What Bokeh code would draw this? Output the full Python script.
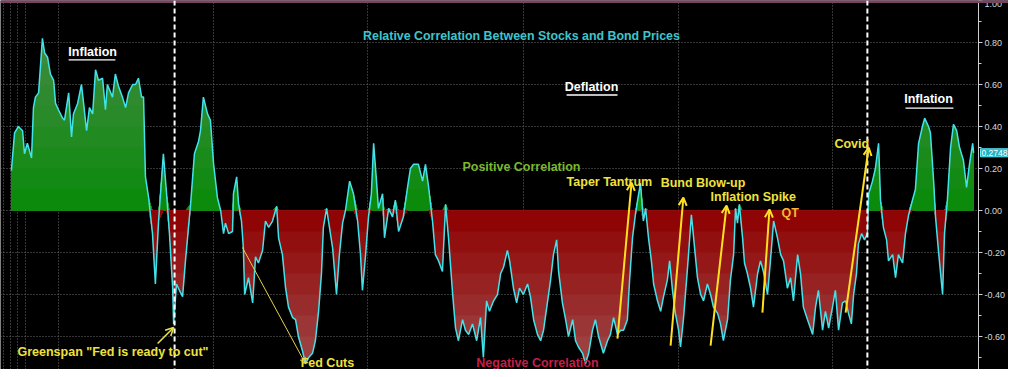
import numpy as np
from bokeh.plotting import figure
from bokeh.models import (Range1d, SingleIntervalTicker, FixedTicker, Grid, Label,
                          Arrow, OpenHead, Span, NumeralTickFormatter, LinearAxis,
                          BoxAnnotation)
from bokeh.embed import file_html
from bokeh.resources import INLINE

# ---------------- data (decimal years, correlation) ----------------
dates = [
    1993.74, 1993.84, 1993.96, 1994.09, 1994.15, 1994.24, 1994.37, 1994.43, 1994.49, 1994.59,
    1994.71, 1994.78, 1994.87, 1994.96, 1995.06, 1995.12, 1995.21, 1995.34, 1995.40, 1995.53,
    1995.62, 1995.68, 1995.81, 1995.93, 1995.99, 1996.09, 1996.18, 1996.28, 1996.37, 1996.46,
    1996.59, 1996.68, 1996.74, 1996.90, 1996.99, 1997.09, 1997.21, 1997.31, 1997.40, 1997.53,
    1997.62, 1997.71, 1997.81, 1997.87, 1997.93, 1998.03, 1998.15, 1998.24, 1998.34, 1998.49,
    1998.59, 1998.68, 1998.78, 1998.81, 1998.90, 1998.96, 1999.09, 1999.18, 1999.34, 1999.46,
    1999.59, 1999.65, 1999.74, 1999.87, 1999.96, 2000.06, 2000.18, 2000.28, 2000.37, 2000.43,
    2000.53, 2000.65, 2000.68, 2000.78, 2000.84, 2000.93, 2000.99, 2001.03, 2001.15, 2001.28,
    2001.37, 2001.46, 2001.59, 2001.68, 2001.78, 2001.90, 2002.03, 2002.09, 2002.21, 2002.31,
    2002.40, 2002.53, 2002.62, 2002.71, 2002.84, 2002.93, 2003.03, 2003.15, 2003.24, 2003.34,
    2003.43, 2003.49, 2003.59, 2003.65, 2003.78, 2003.90, 2003.99, 2004.09, 2004.18, 2004.31,
    2004.43, 2004.56, 2004.65, 2004.71, 2004.81, 2004.90, 2004.99, 2005.06, 2005.15, 2005.21,
    2005.34, 2005.40, 2005.53, 2005.65, 2005.74, 2005.84, 2005.99, 2006.12, 2006.21, 2006.31,
    2006.46, 2006.59, 2006.68, 2006.78, 2006.90, 2006.99, 2007.09, 2007.21, 2007.31, 2007.40,
    2007.53, 2007.62, 2007.71, 2007.84, 2007.93, 2008.03, 2008.15, 2008.28, 2008.40, 2008.49,
    2008.59, 2008.68, 2008.81, 2008.93, 2009.03, 2009.12, 2009.24, 2009.31, 2009.43, 2009.53,
    2009.62, 2009.74, 2009.87, 2009.96, 2010.06, 2010.18, 2010.28, 2010.37, 2010.49, 2010.59,
    2010.68, 2010.78, 2010.84, 2010.96, 2011.06, 2011.15, 2011.28, 2011.37, 2011.46, 2011.59,
    2011.68, 2011.78, 2011.90, 2011.99, 2012.09, 2012.24, 2012.37, 2012.46, 2012.56, 2012.68,
    2012.78, 2012.87, 2012.99, 2013.06, 2013.15, 2013.24, 2013.31, 2013.40, 2013.49, 2013.56,
    2013.65, 2013.74, 2013.81, 2013.93, 2014.03, 2014.12, 2014.24, 2014.31, 2014.40, 2014.49,
    2014.59, 2014.65, 2014.74, 2014.84, 2014.90, 2014.99, 2015.06, 2015.18, 2015.28, 2015.37,
    2015.49, 2015.59, 2015.68, 2015.81, 2015.90, 2015.99, 2016.12, 2016.21, 2016.31, 2016.37,
    2016.43, 2016.49, 2016.59, 2016.65, 2016.74, 2016.84, 2016.93, 2017.06, 2017.15, 2017.24,
    2017.37, 2017.46, 2017.56, 2017.68, 2017.78, 2017.87, 2017.99, 2018.09, 2018.18, 2018.31,
    2018.40, 2018.49, 2018.62, 2018.78, 2018.87, 2018.96, 2019.09, 2019.18, 2019.28, 2019.40,
    2019.49, 2019.59, 2019.71, 2019.81, 2019.90, 2019.99, 2020.06, 2020.15, 2020.21, 2020.31,
    2020.40, 2020.49, 2020.53, 2020.65, 2020.74, 2020.84, 2020.90, 2020.99, 2021.09, 2021.15,
    2021.28, 2021.37, 2021.46, 2021.59, 2021.68, 2021.78, 2021.90, 2021.99, 2022.09, 2022.21,
    2022.28, 2022.40, 2022.46, 2022.56, 2022.62, 2022.71, 2022.84, 2022.90, 2022.99, 2023.09,
    2023.18, 2023.28, 2023.37, 2023.49, 2023.59, 2023.68, 2023.78, 2023.81,
]

corr = [
    0.19, 0.37, 0.40, 0.38, 0.27, 0.32, 0.25, 0.49, 0.54, 0.56,
    0.82, 0.75, 0.73, 0.65, 0.62, 0.51, 0.48, 0.44, 0.43, 0.56,
    0.35, 0.46, 0.51, 0.60, 0.52, 0.38, 0.49, 0.46, 0.67, 0.62,
    0.63, 0.48, 0.60, 0.54, 0.65, 0.59, 0.54, 0.49, 0.56, 0.60,
    0.60, 0.63, 0.54, 0.54, 0.16, 0.06, -0.11, -0.35, -0.05, 0.27,
    0.08, -0.11, -0.37, -0.54, -0.35, -0.37, -0.41, -0.24, 0.03, 0.27,
    0.33, 0.38, 0.54, 0.46, 0.43, 0.22, 0.06, 0.00, -0.11, -0.06,
    -0.11, -0.10, 0.08, 0.16, 0.03, -0.05, -0.18, -0.40, -0.32, -0.44,
    -0.22, -0.25, -0.19, -0.05, -0.08, -0.05, 0.02, -0.13, -0.21, -0.37,
    -0.46, -0.51, -0.52, -0.60, -0.67, -0.73, -0.70, -0.68, -0.62, -0.48,
    -0.30, -0.08, 0.01, -0.05, -0.18, -0.40, -0.21, -0.06, 0.00, 0.14,
    0.08, -0.05, -0.21, -0.38, -0.21, -0.03, 0.08, 0.32, 0.14, 0.01,
    0.08, -0.13, 0.01, -0.03, 0.05, -0.10, -0.03, 0.11, 0.20, 0.22,
    0.22, 0.14, 0.22, 0.11, -0.05, -0.21, -0.24, -0.29, 0.03, -0.13,
    -0.40, -0.56, -0.62, -0.52, -0.57, -0.59, -0.54, -0.62, -0.51, -0.70,
    -0.43, -0.48, -0.43, -0.40, -0.30, -0.27, -0.19, -0.24, -0.37, -0.44,
    -0.37, -0.40, -0.35, -0.41, -0.52, -0.59, -0.62, -0.57, -0.44, -0.33,
    -0.21, -0.14, -0.29, -0.44, -0.52, -0.60, -0.52, -0.62, -0.65, -0.68,
    -0.73, -0.68, -0.57, -0.52, -0.60, -0.68, -0.62, -0.59, -0.51, -0.59,
    -0.57, -0.57, -0.52, -0.33, -0.13, -0.02, 0.05, 0.13, -0.05, 0.01,
    -0.13, -0.24, -0.35, -0.43, -0.48, -0.41, -0.33, -0.24, -0.38, -0.49,
    -0.57, -0.65, -0.52, -0.33, -0.21, -0.02, -0.13, -0.32, -0.40, -0.43,
    -0.35, -0.40, -0.46, -0.49, -0.54, -0.62, -0.52, -0.33, -0.21, 0.01,
    -0.06, 0.03, -0.13, -0.25, -0.30, -0.37, -0.46, -0.30, -0.24, -0.29,
    -0.40, -0.24, -0.05, -0.13, -0.21, -0.24, -0.37, -0.32, -0.43, -0.21,
    -0.30, -0.46, -0.52, -0.59, -0.46, -0.38, -0.57, -0.48, -0.56, -0.46,
    -0.38, -0.57, -0.44, -0.43, -0.49, -0.54, -0.40, -0.30, -0.16, -0.11,
    -0.14, -0.11, 0.08, 0.14, 0.20, 0.32, 0.05, -0.08, -0.14, -0.24,
    -0.21, -0.32, -0.21, -0.25, -0.11, -0.02, 0.05, 0.10, 0.32, 0.40,
    0.44, 0.40, 0.37, 0.14, -0.03, -0.19, -0.40, -0.11, 0.05, 0.30,
    0.41, 0.38, 0.30, 0.24, 0.11, 0.22, 0.32, 0.2748,
]

last_value = 0.2748
event_dates = [1998.84, 2020.49]          # Greenspan "Fed is ready to cut", Covid
grid_years = [1993.49, 1993.71, 1993.93, 1994.18, 1995.21, 2000.06, 2004.87,
              2009.74, 2014.59, 2019.40]

assert len(dates) == len(corr)

FONT = "Liberation Sans"
t = np.array(dates)
v = np.array(corr)

FW, FH = 1008, 369
X0 = 1993.4
AX = X0 + 978 / 32.0          # position of the value axis (right side)

p = figure(frame_width=FW, frame_height=FH,
           x_range=Range1d(X0, X0 + FW / 32.0),
           y_range=Range1d(-0.757, 1.0),
           x_axis_location=None, y_axis_location=None,
           output_backend="svg", toolbar_location=None,
           background_fill_color="black", border_fill_color="black",
           min_border=0, outline_line_color=None)

# hide any default grids
for g in list(p.renderers) + list(p.center):
    if isinstance(g, Grid):
        g.visible = False

yticker = SingleIntervalTicker(interval=0.2, num_minor_ticks=2)

# grids
p.add_layout(Grid(dimension=1, ticker=yticker, grid_line_color="#6a6a6a",
                  grid_line_dash="1 2"))
p.add_layout(Grid(dimension=0, ticker=FixedTicker(ticks=grid_years),
                  grid_line_color="#6a6a6a", grid_line_dash="1 2"))
# blank the area right of the value axis
p.add_layout(BoxAnnotation(left=AX, fill_color="black", fill_alpha=1.0,
                           line_color=None, level="underlay"))

# right value axis
ax = LinearAxis(ticker=yticker, fixed_location=AX,
                formatter=NumeralTickFormatter(format="0.00"))
ax.axis_line_color = "#d0d0d0"
ax.major_tick_line_color = "#d0d0d0"
ax.minor_tick_line_color = "#d0d0d0"
ax.major_tick_in = 0
ax.major_tick_out = 4
ax.minor_tick_in = 0
ax.minor_tick_out = 3
ax.major_label_text_color = "#d8d8d8"
ax.major_label_text_font = FONT
ax.major_label_text_font_size = "9px"
ax.major_label_standoff = 2
p.add_layout(ax, "right")

# top border line
p.add_layout(Span(location=0.995, dimension="width", line_color="#7a4262", line_width=3))

# gradient-like fills (layered)
def mix(c0, c1, f):
    return "#%02x%02x%02x" % tuple(int(round(a + (b - a) * f)) for a, b in zip(c0, c1))

pos = np.maximum(v, 0)
neg = np.minimum(v, 0)
for k in range(9, 0, -1):
    b = k * 0.1
    col = mix((8, 138, 8), (72, 138, 72), (k - 0.5) / 9)
    p.varea(x=t, y1=0, y2=np.minimum(pos, b), fill_color=col)
for k in range(8, 0, -1):
    b = -k * 0.1
    col = mix((142, 0, 0), (160, 78, 78), (k - 0.5) / 8)
    p.varea(x=t, y1=0, y2=np.maximum(neg, b), fill_color=col)

p.line(t, v, line_color="#42e2ea", line_width=1.5)

# event dashed lines
for d in event_dates:
    p.add_layout(Span(location=d, dimension="height", line_color="white",
                      line_dash="5 3", line_width=2))

# annotations
def lab(x, y, text, color, size="12.5px", align="left", baseline="middle"):
    p.add_layout(Label(x=x, y=y, text=text, text_color=color, text_font=FONT,
                       text_font_size=size, text_font_style="bold",
                       text_align=align, text_baseline=baseline))

YEL = "#f0e23c"
lab(2009.68, 0.829, "Relative Correlation Between Stocks and Bond Prices", "#3ec5cc", "12.4px", "center")
lab(1996.28, 0.757, "Inflation", "white", "12.5px", "center")
lab(2011.87, 0.590, "Deflation", "white", "12.5px", "center")
lab(2022.40, 0.529, "Inflation", "white", "12.5px", "center")
p.segment(x0=[1995.53, 2011.09, 2021.68], y0=[0.717, 0.550, 0.488],
          x1=[1996.99, 2012.68, 2023.18], y1=[0.717, 0.550, 0.488],
          line_color="white", line_width=1.3)
lab(2009.68, 0.205, "Positive Correlation", "#7ab82c", align="center")
lab(2010.18, -0.724, "Negative Correlation", "#c41e48", align="center")
lab(2002.78, -0.724, "Fed Cuts", YEL)
lab(1993.93, -0.676, "Greenspan \"Fed is ready to cut\"", YEL)
lab(2011.09, 0.138, "Taper Tantrum", YEL)
lab(2014.03, 0.129, "Bund Blow-up", YEL)
lab(2015.59, 0.062, "Inflation Spike", YEL)
lab(2017.81, -0.010, "QT", "#f5b830")
lab(2019.46, 0.319, "Covid", YEL)

ARW = "#ffe020"
arrows = [
    (1998.31, -0.633, 1998.81, -0.557, "#e8e04a", 1.6, 8),
    (2000.96, -0.176, 2002.93, -0.729, "#e8d050", 1.0, 6),
    (2012.68, -0.610, 2013.12, 0.133, ARW, 2.0, 8),
    (2014.34, -0.643, 2014.74, 0.062, ARW, 2.0, 8),
    (2015.59, -0.643, 2016.09, 0.024, ARW, 2.0, 8),
    (2017.21, -0.486, 2017.43, 0.005, ARW, 2.0, 8),
    (2019.81, -0.486, 2020.53, 0.300, ARW, 2.0, 8),
]
for x0, y0, x1, y1, c, w, s in arrows:
    p.add_layout(Arrow(end=OpenHead(size=s, line_color=c, line_width=w),
                       x_start=x0, y_start=y0, x_end=x1, y_end=y1,
                       line_color=c, line_width=w))

# last value tag (just right of the axis)
p.add_layout(Label(x=AX, y=last_value, x_offset=2,
                   text="%.4f" % last_value, text_color="white", text_font=FONT,
                   text_font_size="8.5px", text_baseline="middle",
                   background_fill_color="#1fb5c5", border_line_color="#5ff0ff",
                   padding=1, level="overlay"))

open("out.html", "w").write(file_html(p, INLINE))
